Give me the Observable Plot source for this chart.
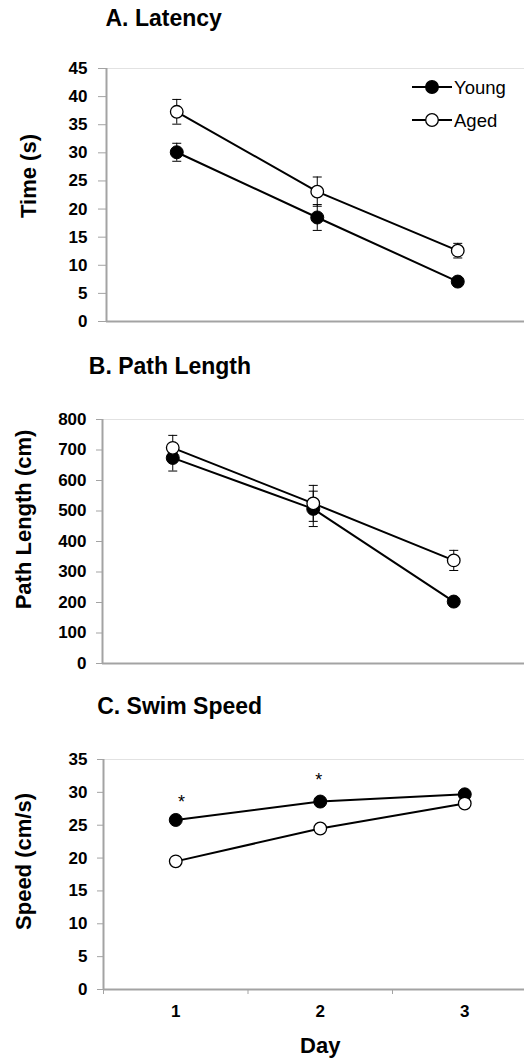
<!DOCTYPE html>
<html><head><meta charset="utf-8">
<script src="https://cdn.jsdelivr.net/npm/d3@7"></script>
<script src="https://cdn.jsdelivr.net/npm/@observablehq/plot@0.6"></script>
<style>
html,body{margin:0;padding:0;background:#fff;overflow:hidden;}
#wrap{position:relative;width:524px;height:1059px;overflow:hidden;background:#fff;}
#wrap svg{position:absolute;left:0;}
</style></head><body><div id="wrap"></div>
<script>
// ---- data ----
const days = [1, 2, 3];
const groups = ["Young", "Aged"];
const latencyYoung = [30.1, 18.5, 7.1];
const latencyYoungSem = [1.6, 2.3, 0.5];
const latencyAged = [37.3, 23.1, 12.6];
const latencyAgedSem = [2.2, 2.6, 1.3];
const pathYoung = [674, 507, 203];
const pathYoungSem = [43, 58, 10];
const pathAged = [707, 525, 338];
const pathAgedSem = [41, 59, 33];
const speedYoung = [25.8, 28.6, 29.7];
const speedAged = [19.5, 24.5, 28.3];
const latencyTicks = [0, 5, 10, 15, 20, 25, 30, 35, 40, 45];
const pathTicks = [0, 100, 200, 300, 400, 500, 600, 700, 800];
const speedTicks = [0, 5, 10, 15, 20, 25, 30, 35];
const dayTicks = [1, 2, 3];
const dayBoundaries = [0.5, 1.5, 2.5, 3.5];
const sigX = [1.04, 1.99];
const sigY = [29.2, 32.6];

const FONT = "'Liberation Sans', Arial, Helvetica, sans-serif";
const AXIS = "#a3a3a3";
const TICK_FS = 17, TITLE_FS = 23, LABEL_FS = 22;
const capSymbol = {
  draw(ctx, size) { const r = Math.sqrt(size / Math.PI); ctx.moveTo(-r, 0); ctx.lineTo(r, 0); }
};

function rowsFor(young, youngSem, aged, agedSem) {
  const rows = [];
  days.forEach((d, i) => rows.push({day: d, group: "Young", value: young[i], sem: youngSem ? youngSem[i] : null}));
  days.forEach((d, i) => rows.push({day: d, group: "Aged", value: aged[i], sem: agedSem ? agedSem[i] : null}));
  return rows;
}

function panel(o) {
  const rows = rowsFor(o.young, o.youngSem, o.aged, o.agedSem);
  const withSem = rows.filter(d => d.sem != null);
  const caps = withSem.flatMap(d => [{day: d.day, v: d.value - d.sem}, {day: d.day, v: d.value + d.sem}]);
  const yMax = o.yTicks[o.yTicks.length - 1];
  const marks = [
    Plot.ruleY([yMax], {stroke: "#e2e2e2", strokeWidth: 1}),
    Plot.axisY({ticks: o.yTicks, tickSize: o.tickSize, tickPadding: o.tickPadding, stroke: AXIS, fill: "black",
      fontWeight: "bold", fontSize: TICK_FS, tickFormat: d => String(d), label: null}),
    Plot.ruleX([0.5], {stroke: AXIS, strokeWidth: 2}),
    Plot.ruleY([0], {stroke: AXIS, strokeWidth: 2}),
    Plot.ruleX(withSem, {x: "day", y1: d => d.value - d.sem, y2: d => d.value + d.sem, stroke: "black", strokeWidth: 1}),
    Plot.dot(caps, {x: "day", y: "v", symbol: capSymbol, r: 4.5, fill: "none", stroke: "black", strokeWidth: 1}),
    Plot.line(rows, {x: "day", y: "value", z: "group", stroke: "black", strokeWidth: 2}),
    Plot.dot(rows.filter(d => d.group === "Young"), {x: "day", y: "value", r: 6.5, fill: "black", stroke: "black", strokeWidth: 1}),
    Plot.dot(rows.filter(d => d.group === "Aged"), {x: "day", y: "value", r: 6.3, fill: "white", stroke: "black", strokeWidth: 1.3}),
    Plot.text([o.title], {text: d => d, frameAnchor: "top-left", dx: o.titleDx, dy: o.titleDy, textAnchor: "start",
      lineAnchor: "bottom", fontSize: TITLE_FS, fontWeight: "bold", fill: "black"}),
    Plot.text([o.yLabel], {text: d => d, frameAnchor: "left", dx: o.yLabelDx, dy: o.yLabelDy, rotate: -90,
      textAnchor: "middle", lineAnchor: "middle", fontSize: LABEL_FS, fontWeight: "bold", fill: "black"}),
    ...(o.extra || [])
  ];
  const svg = Plot.plot({
    width: 524, height: o.height,
    marginTop: o.marginTop, marginBottom: o.marginBottom, marginLeft: o.marginLeft, marginRight: 0,
    x: {type: "linear", domain: [0.5, 3.5], range: o.xRange, axis: o.xAxis ? undefined : null},
    y: {domain: [0, yMax]},
    style: {fontFamily: FONT, fontSize: "16px", color: "black", background: "white", overflow: "visible", maxWidth: "none"},
    marks
  });
  svg.style.top = o.top + "px";
  document.getElementById("wrap").appendChild(svg);
  return svg;
}

// A. Latency
const svgA = panel({
  top: 0, height: 340, marginTop: 68, marginBottom: 19, marginLeft: 106, xRange: [106, 527.5],
  yTicks: latencyTicks, young: latencyYoung, youngSem: latencyYoungSem, aged: latencyAged, agedSem: latencyAgedSem,
  title: "A. Latency", titleDx: -1, titleDy: -43,
  yLabel: "Time (s)", yLabelDx: -78, yLabelDy: -19, tickSize: 8, tickPadding: 11
});

// legend inside panel A
(function () {
  const g = d3.select(svgA).append("g").attr("font-family", FONT).attr("font-size", 18.5).attr("text-anchor", "start");
  const items = [{name: groups[0], fill: "black", y: 87}, {name: groups[1], fill: "white", y: 120}];
  items.forEach(it => {
    g.append("line").attr("x1", 412).attr("x2", 452).attr("y1", it.y).attr("y2", it.y).attr("stroke", "black").attr("stroke-width", 2);
    g.append("circle").attr("cx", 432).attr("cy", it.y).attr("r", 6.3).attr("fill", it.fill).attr("stroke", "black").attr("stroke-width", 1.3);
    g.append("text").attr("x", 454).attr("y", it.y + 6.7).attr("fill", "black").attr("text-anchor", "start").text(it.name);
  });
})();

// B. Path Length
panel({
  top: 340, height: 340, marginTop: 79, marginBottom: 17, marginLeft: 102, xRange: [102, 523.5],
  yTicks: pathTicks, young: pathYoung, youngSem: pathYoungSem, aged: pathAged, agedSem: pathAgedSem,
  title: "B. Path Length", titleDx: -13.7, titleDy: -45.7,
  yLabel: "Path Length (cm)", yLabelDx: -79, yLabelDy: -22, tickSize: 6, tickPadding: 10
});

// C. Swim Speed
panel({
  top: 680, height: 379, marginTop: 79, marginBottom: 70, marginLeft: 103, xRange: [103, 536.5], xAxis: true,
  yTicks: speedTicks, young: speedYoung, youngSem: null, aged: speedAged, agedSem: null,
  title: "C. Swim Speed", titleDx: -6.3, titleDy: -45.7,
  yLabel: "Speed (cm/s)", yLabelDx: -80, yLabelDy: -13, tickSize: 6, tickPadding: 10,
  extra: [
    Plot.axisX({ticks: dayBoundaries, tickSize: 5, tickFormat: () => "", stroke: AXIS, label: null}),
    Plot.axisX({ticks: dayTicks, tickSize: 0, tickPadding: 15, fontWeight: "bold", fontSize: TICK_FS, fill: "black", tickFormat: d => String(d), label: null}),
    Plot.text(["Day"], {text: d => d, x: 2, frameAnchor: "bottom", dy: 63, lineAnchor: "bottom", textAnchor: "middle", fontSize: LABEL_FS, fontWeight: "bold", fill: "black"}),
    Plot.text(sigX.map((x, i) => ({x, y: sigY[i]})), {x: "x", y: "y", text: () => "*", fontSize: 18, dy: 5, lineAnchor: "middle", textAnchor: "middle", fill: "black"})
  ]
});
</script></body></html>
